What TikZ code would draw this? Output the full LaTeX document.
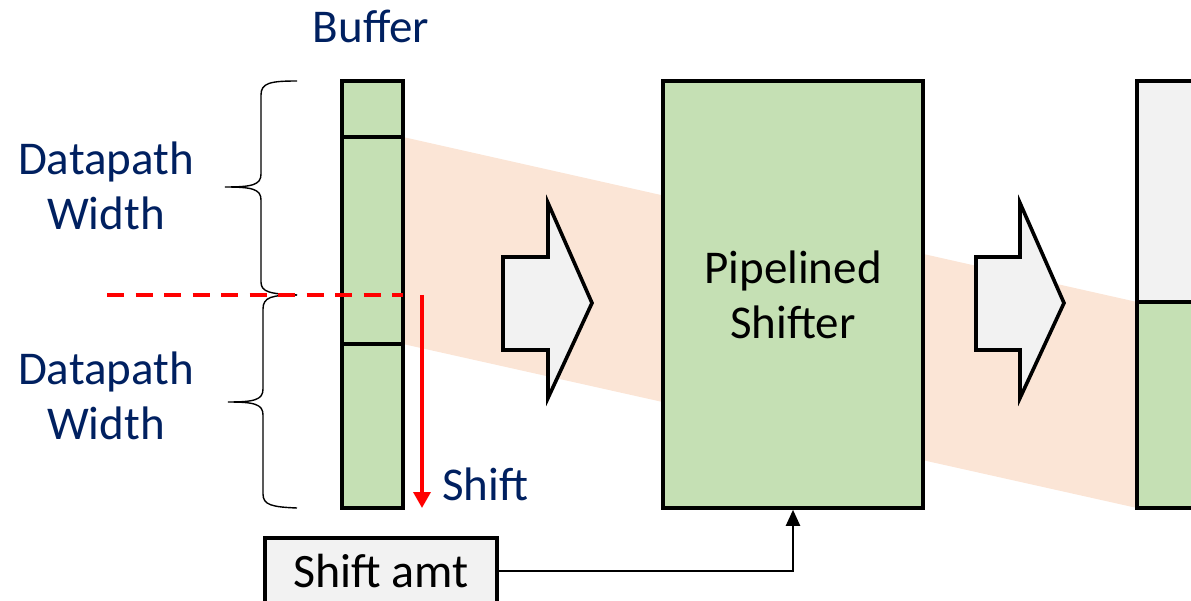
\documentclass[tikz,border=0pt]{standalone}
\usepackage{fontspec}
\setmainfont{Carlito}
\usetikzlibrary{arrows.meta}
\definecolor{navy}{HTML}{002060}
\definecolor{boxgreen}{HTML}{C5E0B4}
\definecolor{bandcol}{HTML}{FBE5D6}
\definecolor{lgray}{HTML}{F2F2F2}
\begin{document}
\begin{tikzpicture}[x=1pt,y=-1pt,
  box/.style={draw=black,line width=3.6pt,inner sep=0pt},
  bigtext/.style={font=\fontsize{47}{55}\selectfont,align=center},
  lbl/.style={bigtext,text=navy,inner sep=0pt},
  blockarrow/.style={fill=lgray,draw=black,line width=3.6pt,line join=miter},
  brace/.style={draw=black,line width=1.4pt}]
\useasboundingbox (0,0) rectangle (1191,601);
% band
\fill[bandcol] (403,137) -- (1137,302) -- (1137,508) -- (403,344) -- cycle;
% buffer
\node[box,fill=boxgreen,minimum width=61pt,minimum height=56pt] (buf1) at (372.5,109) {};
\node[box,fill=boxgreen,minimum width=61pt,minimum height=207pt] (buf2) at (372.5,240.5) {};
\node[box,fill=boxgreen,minimum width=61pt,minimum height=164pt] (buf3) at (372.5,426) {};
% shifter
\node[box,fill=boxgreen,minimum width=260pt,minimum height=427pt,bigtext] (shifter) at (793,294.5) {Pipelined\\Shifter};
% right box
\node[box,fill=lgray,minimum width=90pt,minimum height=221pt] (out1) at (1182,191.5) {};
\node[box,fill=boxgreen,minimum width=90pt,minimum height=206pt] (out2) at (1182,405) {};
% block arrows
\draw[blockarrow] (503,257) -- (548,257) -- (548,203) -- (592,303) -- (548,398) -- (548,350) -- (503,350) -- cycle;
\draw[blockarrow] (976,257) -- (1020,257) -- (1020,203) -- (1064,303) -- (1020,398) -- (1020,350) -- (976,350) -- cycle;
% braces
\draw[brace] (297,81) .. controls (270,81) and (261,83) .. (261,95) -- (261,174)
  .. controls (261,185) and (252,187) .. (225,187)
  .. controls (252,187) and (261,189) .. (261,200) -- (261,282)
  .. controls (261,292) and (270,294) .. (297,295);
\draw[brace] (297,295) .. controls (272,295) and (263,297) .. (263,309) -- (263,389)
  .. controls (263,400) and (254,402) .. (228,402)
  .. controls (254,402) and (263,404) .. (263,415) -- (263,494)
  .. controls (263,505) and (272,507) .. (297,508);
% labels
\node[lbl,anchor=base] (buflbl) at (371,43) {Buffer};
\node[lbl] (dw1) at (106,186) {Datapath\\Width};
\node[lbl] (dw2) at (106,396) {Datapath\\Width};
\node[lbl,anchor=base west] (shiftlbl) at (442,500) {Shift};
% red dashed line and shift arrow
\coordinate (dl) at (107,295);
\coordinate (dr) at (403,295);
\coordinate (sa) at (422,295);
\coordinate (sb) at (422,508);
\draw[red,line width=4pt,dash pattern=on 17pt off 11.5pt] (dl) -- (dr);
\draw[red,line width=3.5pt,-{Triangle[width=17pt,length=16pt]}] (sa) -- (sb);
% shift amt
\node[box,fill=lgray,minimum width=232pt,minimum height=66pt,font=\fontsize{48}{55}\selectfont] (amt) at (381,571) {Shift amt};
\draw[line width=2.2pt,-{Triangle[width=14pt,length=16pt]}] (amt.east) -| (shifter.south);
\end{tikzpicture}
\end{document}
